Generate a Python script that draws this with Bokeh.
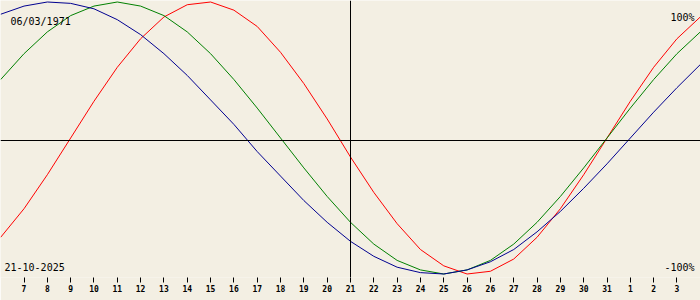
from bokeh.plotting import figure
from bokeh.models import Range1d, Span, Label, FixedTicker
from bokeh.embed import file_html
from bokeh.resources import INLINE

# Day index: 0 = tick "7" (7 October), 14 = 21 October (today)
days = list(range(-1, 30))

# Tick labels at day index 0..28 (the original repeats "26" at the DST change)
tick_labels = ["7", "8", "9", "10", "11", "12", "13", "14", "15", "16", "17", "18",
               "19", "20", "21", "22", "23", "24", "25", "26", "26", "27", "28",
               "29", "30", "31", "1", "2", "3"]

# Daily values (-1 .. 1)
physical = [-0.73, -0.52, -0.27, 0.00, 0.27, 0.52, 0.73, 0.89, 0.98, 1.00, 0.94,
            0.82, 0.63, 0.40, 0.14, -0.14, -0.40, -0.63, -0.82, -0.94, -1.00,
            -0.98, -0.89, -0.73, -0.52, -0.27, 0.00, 0.27, 0.52, 0.73, 0.89]
emotional = [0.43, 0.62, 0.78, 0.90, 0.97, 1.00, 0.97, 0.90, 0.78, 0.62, 0.43,
             0.22, 0.00, -0.22, -0.43, -0.62, -0.78, -0.90, -0.97, -1.00, -0.97,
             -0.90, -0.78, -0.62, -0.43, -0.22, 0.00, 0.22, 0.43, 0.62, 0.78]
intellectual = [0.91, 0.97, 1.00, 0.99, 0.95, 0.87, 0.76, 0.62, 0.46, 0.28, 0.10,
                -0.10, -0.28, -0.46, -0.62, -0.76, -0.87, -0.95, -0.99, -1.00,
                -0.97, -0.91, -0.82, -0.69, -0.54, -0.37, -0.19, 0.00, 0.19, 0.37, 0.54]

birth_text = "06/03/1971"
date_text = "21-10-2025"
top_text = "100%"
bottom_text = "-100%"

BG = "#f3efe3"
px_per_day = 23.32
x0 = 23.52  # pixel of day index 0

p = figure(width=700, height=300, output_backend="svg", toolbar_location=None,
           x_range=Range1d(-x0 / px_per_day, (700 - x0) / px_per_day),
           y_range=Range1d((137.5 - 277) / 136, 137.5 / 136),
           min_border=0, min_border_bottom=23, y_axis_location=None)
p.background_fill_color = BG
p.border_fill_color = BG
p.outline_line_color = None
p.xgrid.visible = False
p.ygrid.visible = False

ax = p.xaxis[0]
ax.ticker = FixedTicker(ticks=list(range(len(tick_labels))))
ax.major_label_overrides = {i: t for i, t in enumerate(tick_labels)}
ax.axis_line_color = None
ax.major_tick_in = 0
ax.major_tick_out = 5
ax.major_tick_line_color = "black"
ax.minor_tick_line_color = None
ax.major_label_standoff = 2
ax.major_label_text_font = "DejaVu Sans Mono"
ax.major_label_text_font_size = "8px"
ax.major_label_text_font_style = "bold"
ax.major_label_text_color = "black"

p.add_layout(Span(location=-2.5 / 136, dimension="width", line_color="black", line_width=1))
p.add_layout(Span(location=14, dimension="height", line_color="black", line_width=1))

p.line(days, physical, line_color="#ff0000", line_width=1)
p.line(days, emotional, line_color="#008000", line_width=1)
p.line(days, intellectual, line_color="#000090", line_width=1)

def lab(text, px, py, align):
    p.add_layout(Label(x=(px - x0) / px_per_day, y=(137.5 - py) / 136, text=text,
                       text_align=align, text_baseline="alphabetic",
                       text_font="DejaVu Sans Mono", text_font_size="10px",
                       text_color="black"))

lab(birth_text, 10, 20.5, "left")
lab(top_text, 694, 16.5, "right")
lab(date_text, 4, 266.5, "left")
lab(bottom_text, 694, 266.5, "right")

open("out.html", "w").write(file_html(p, INLINE))
